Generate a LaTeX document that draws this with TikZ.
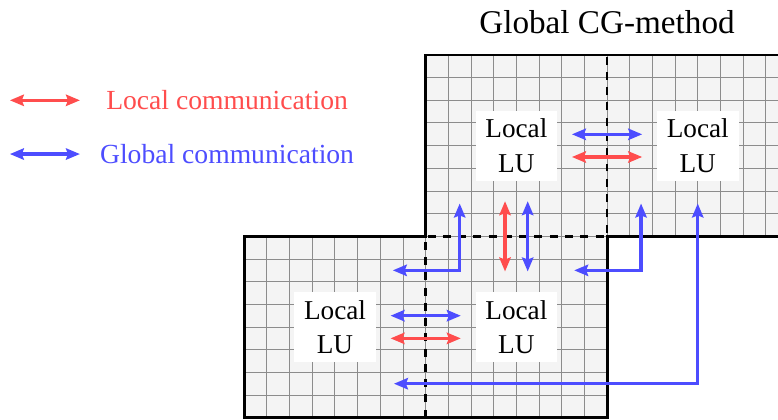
\documentclass[tikz,border=0pt]{standalone}
\usepackage{fontspec}
\setmainfont{Liberation Serif}
\usetikzlibrary{arrows.meta,calc}

\definecolor{locred}{RGB}{255,77,77}
\definecolor{globblue}{RGB}{77,77,255}
\definecolor{cellfill}{RGB}{244,244,244}
\definecolor{cellline}{RGB}{140,140,140}

\begin{document}
\begin{tikzpicture}[x=0.6cm,y=0.6cm,
  gridline/.style={cellline,line width=0.75pt},
  border/.style={line width=2.2pt},
  cut/.style={line width=2pt,dash pattern=on 6pt off 5.5pt},
  lu/.style={fill=white,align=center,inner sep=0pt,minimum width=2.16cm,minimum height=1.86cm,font=\fontsize{20.5}{25.7}\selectfont},
  loc/.style={locred,line width=2.4pt,{Stealth[length=10.5pt,width=8.5pt,inset=1.5pt]}-{Stealth[length=10.5pt,width=8.5pt,inset=1.5pt]}},
  glob/.style={globblue,line width=2.4pt,{Stealth[length=10.5pt,width=8.5pt,inset=1.5pt]}-{Stealth[length=10.5pt,width=8.5pt,inset=1.5pt]}}]

\clip (-10.776,-0.057) rectangle (23.54,18.425);

% ---------------- SUBDOMAINS ----------------

\fill[cellfill] (0,0) rectangle (16,8);
\fill[cellfill] (8,8) rectangle (24,16);
\draw[gridline,step=0.6cm] (0,0) grid (16,8);
\draw[gridline,step=0.6cm] (8,8) grid (24,16);

\draw[cut] (8,0)--(8,8)--(16,8)--(16,16);
\draw[border] (0,0)--(16,0)--(16,8)--(24,8)--(24,16)--(8,16)--(8,8)--(0,8)--cycle;

\node[font=\fontsize{25}{30}\selectfont] (title) at (16,17.45) {Global CG-method};

% ---------------- LOCAL LU BLOCKS ----------------

\node[lu] (LU1) at (4,4) {Local\\LU};
\node[lu] (LU2) at (12,4) {Local\\LU};
\node[lu] (LU3) at (12,12) {Local\\LU};
\node[lu] (LU4) at (20,12) {Local\\LU};

% ---------------- COMMUNICATION ----------------

\draw[glob] ($(LU1)+(2.45,0.5)$) -- ($(LU2)+(-2.45,0.5)$);
\draw[loc]  ($(LU1)+(2.45,-0.5)$) -- ($(LU2)+(-2.45,-0.5)$);
\draw[glob] ($(LU3)+(2.45,0.5)$) -- ($(LU4)+(-2.45,0.5)$);
\draw[loc]  ($(LU3)+(2.45,-0.5)$) -- ($(LU4)+(-2.45,-0.5)$);

\draw[loc]  ($(LU3)+(-0.5,-2.45)$) -- ($(LU2)+(-0.5,2.45)$);
\draw[glob] ($(LU3)+(0.5,-2.45)$) -- ($(LU2)+(0.5,2.45)$);

\draw[glob] ($(LU1)+(2.55,2.5)$) -| ($(LU3)+(-2.5,-2.55)$);
\draw[glob] ($(LU2)+(2.55,2.5)$) -| ($(LU4)+(-2.5,-2.55)$);
\draw[glob] ($(LU1)+(2.6,-2.5)$) -| ($(LU4)+(0,-2.55)$);

% ---------------- LEGEND ----------------

\coordinate (locA) at (-10.34,14);
\coordinate (locB) at (-7.25,14);
\coordinate (globA) at (-10.34,11.63);
\coordinate (globB) at (-7.25,11.63);

\draw[loc] (locA) -- (locB);
\draw[glob] (globA) -- (globB);

\node[locred,font=\fontsize{20.8}{25}\selectfont] (loctext) at (-0.76,14) {Local communication};
\node[globblue,font=\fontsize{20.8}{25}\selectfont] (globtext) at (-0.76,11.63) {Global communication};

\end{tikzpicture}
\end{document}
